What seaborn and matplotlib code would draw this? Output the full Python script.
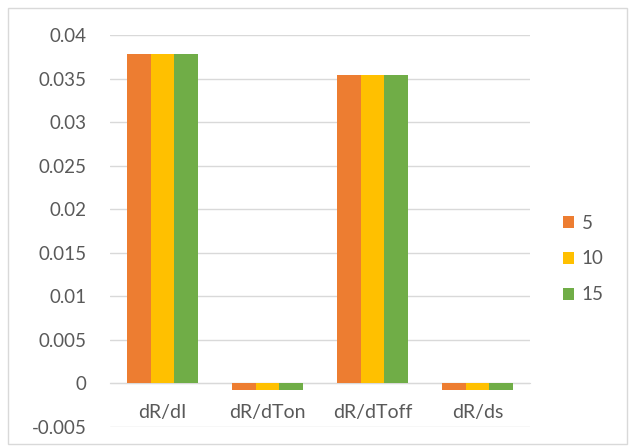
import matplotlib
matplotlib.use("Agg")
import matplotlib.pyplot as plt
import seaborn as sns
import pandas as pd
from matplotlib.patches import Rectangle

categories = ["dR/dI", "dR/dTon", "dR/dToff", "dR/ds"]
series_names = ["5", "10", "15"]
values_5 = [0.0378, -0.0008, 0.0354, -0.0008]
values_10 = [0.0378, -0.0008, 0.0354, -0.0008]
values_15 = [0.0378, -0.0008, 0.0354, -0.0008]
ytick_values = [-0.005, 0, 0.005, 0.01, 0.015, 0.02, 0.025, 0.03, 0.035, 0.04]
ytick_labels = ["-0.005", "0", "0.005", "0.01", "0.015", "0.02", "0.025", "0.03", "0.035", "0.04"]
colors = ["#ED7D31", "#FFC000", "#70AD47"]

rows = []
for name, vals in zip(series_names, [values_5, values_10, values_15]):
    for c, v in zip(categories, vals):
        rows.append({"category": c, "series": name, "value": v})
df = pd.DataFrame(rows)

sns.set_style("white")
plt.rcParams["font.family"] = ["Lato", "DejaVu Sans"]
text_color = "#595959"

fig = plt.figure(figsize=(6.33, 4.48), dpi=100)
ax = fig.add_axes([110 / 633, (448 - 427) / 448, (530 - 110) / 633, (427 - 35) / 448])

sns.barplot(data=df, x="category", y="value", hue="series", hue_order=series_names,
            order=categories, palette=colors, width=0.67, ax=ax, saturation=1,
            legend=True, edgecolor="none", linewidth=0)

ax.set_ylim(-0.005, 0.04)
ax.set_xlim(-0.5, 3.5)
ax.set_yticks(ytick_values)
ax.set_yticklabels(ytick_labels)
ax.set_xlabel("")
ax.set_ylabel("")
ax.yaxis.grid(True, color="#D9D9D9", linewidth=1)
ax.set_axisbelow(True)
for s in ["top", "right", "left"]:
    ax.spines[s].set_visible(False)
ax.spines["bottom"].set_position(("data", 0))
ax.spines["bottom"].set_color("#D9D9D9")
ax.spines["bottom"].set_zorder(0.5)
ax.tick_params(axis="x", length=0, pad=15, labelsize=14, labelcolor=text_color)
ax.tick_params(axis="y", length=0, pad=17, labelsize=13.5, labelcolor=text_color)

handles, labels = ax.get_legend_handles_labels()
ax.legend(handles, labels, loc="center left", bbox_to_anchor=(546 / 633, (448 - 259) / 448),
          bbox_transform=fig.transFigure, frameon=False, fontsize=13.5,
          handlelength=0.6, handleheight=0.6, handletextpad=0.4, labelspacing=1.0,
          labelcolor=text_color)

fig.patches.append(Rectangle((8 / 633, 4 / 448), 619 / 633, 436 / 448, transform=fig.transFigure,
                             fill=False, edgecolor="#D9D9D9", linewidth=1))

fig.savefig("out.png", dpi=100)
